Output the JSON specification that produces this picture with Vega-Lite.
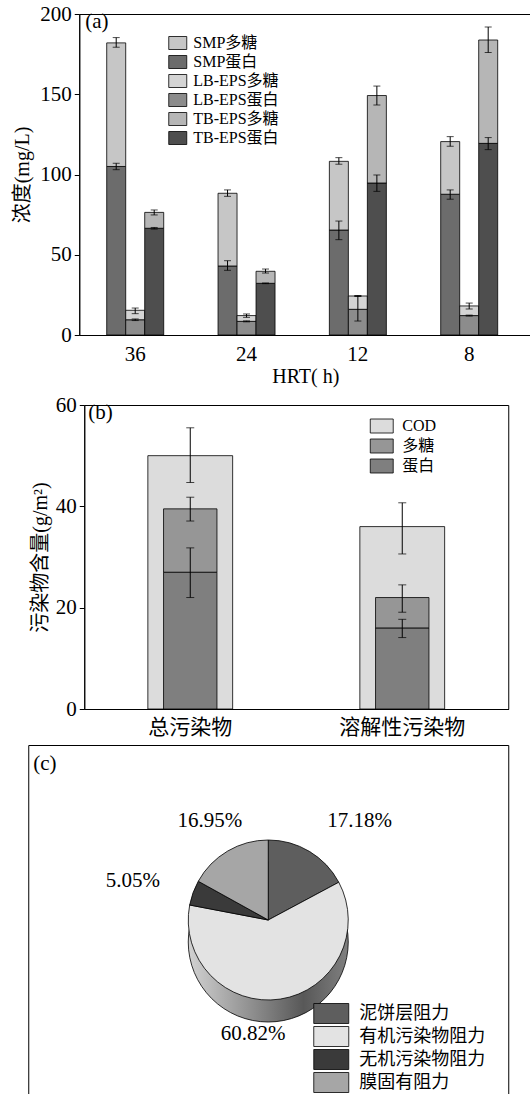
{
  "$schema": "https://vega.github.io/schema/vega-lite/v6.json",
  "padding": {"left": 12, "top": 2, "right": 0, "bottom": 0},
  "spacing": 6,
  "center": true,
  "resolve": {"scale": {"color": "independent"}, "legend": {"color": "independent"}},
  "config": {
    "font": "Liberation Serif, Noto Sans CJK SC",
    "view": {"stroke": "black", "strokeWidth": 1},
    "axis": {"grid": false, "domainColor": "black", "tickColor": "black", "labelColor": "black", "titleColor": "black", "labelFontSize": 21, "titleFontSize": 20, "titleFontWeight": "normal", "labelFont": "Liberation Serif, Noto Sans CJK SC", "titleFont": "Liberation Serif, Noto Sans CJK SC"},
    "legend": {"labelColor": "black", "labelFont": "Liberation Serif, Noto Sans CJK SC", "symbolStrokeColor": "black", "symbolStrokeWidth": 0.8, "symbolOpacity": 1},
    "title": {"fontWeight": "normal", "color": "black", "fontSize": 21, "anchor": "start", "frame": "group", "font": "Liberation Serif"}
  },
  "vconcat": [
    {
      "width": 452,
      "height": 321,
      "title": {"text": "(a)", "offset": -29, "dx": 6},
      "data": {"values": [
        {"hrt": "36", "type": "SMP", "series": "SMP蛋白", "y0": 0, "y1": 105, "lo": 103, "hi": 107},
        {"hrt": "36", "type": "SMP", "series": "SMP多糖", "y0": 105, "y1": 182, "lo": 179.3, "hi": 185.3},
        {"hrt": "36", "type": "LB-EPS", "series": "LB-EPS蛋白", "y0": 0, "y1": 9.5, "lo": 9, "hi": 10},
        {"hrt": "36", "type": "LB-EPS", "series": "LB-EPS多糖", "y0": 9.5, "y1": 15.4, "lo": 13.3, "hi": 16.8},
        {"hrt": "36", "type": "TB-EPS", "series": "TB-EPS蛋白", "y0": 0, "y1": 66.5, "lo": 66, "hi": 67},
        {"hrt": "36", "type": "TB-EPS", "series": "TB-EPS多糖", "y0": 66.5, "y1": 76.4, "lo": 74.8, "hi": 77.9},
        {"hrt": "24", "type": "SMP", "series": "SMP蛋白", "y0": 0, "y1": 43, "lo": 40.3, "hi": 46.3},
        {"hrt": "24", "type": "SMP", "series": "SMP多糖", "y0": 43, "y1": 88.3, "lo": 86.4, "hi": 90.4},
        {"hrt": "24", "type": "LB-EPS", "series": "LB-EPS蛋白", "y0": 0, "y1": 8.5, "lo": 8.2, "hi": 8.8},
        {"hrt": "24", "type": "LB-EPS", "series": "LB-EPS多糖", "y0": 8.5, "y1": 12.1, "lo": 11, "hi": 13.1},
        {"hrt": "24", "type": "TB-EPS", "series": "TB-EPS蛋白", "y0": 0, "y1": 32.2, "lo": 32, "hi": 32.4},
        {"hrt": "24", "type": "TB-EPS", "series": "TB-EPS多糖", "y0": 32.2, "y1": 39.7, "lo": 38.6, "hi": 41.1},
        {"hrt": "12", "type": "SMP", "series": "SMP蛋白", "y0": 0, "y1": 65.4, "lo": 59.4, "hi": 71},
        {"hrt": "12", "type": "SMP", "series": "SMP多糖", "y0": 65.4, "y1": 108.2, "lo": 106.4, "hi": 110.5},
        {"hrt": "12", "type": "LB-EPS", "series": "LB-EPS蛋白", "y0": 0, "y1": 16, "lo": 8.7, "hi": 24.3},
        {"hrt": "12", "type": "LB-EPS", "series": "LB-EPS多糖", "y0": 16, "y1": 24.3, "lo": 24, "hi": 24.6},
        {"hrt": "12", "type": "TB-EPS", "series": "TB-EPS蛋白", "y0": 0, "y1": 94.7, "lo": 89.5, "hi": 99.7},
        {"hrt": "12", "type": "TB-EPS", "series": "TB-EPS多糖", "y0": 94.7, "y1": 149.2, "lo": 143.3, "hi": 155.1},
        {"hrt": "8", "type": "SMP", "series": "SMP蛋白", "y0": 0, "y1": 87.7, "lo": 84.6, "hi": 90.4},
        {"hrt": "8", "type": "SMP", "series": "SMP多糖", "y0": 87.7, "y1": 120.5, "lo": 117.6, "hi": 123.6},
        {"hrt": "8", "type": "LB-EPS", "series": "LB-EPS蛋白", "y0": 0, "y1": 12.1, "lo": 11.8, "hi": 12.4},
        {"hrt": "8", "type": "LB-EPS", "series": "LB-EPS多糖", "y0": 12.1, "y1": 18.1, "lo": 16.2, "hi": 19.9},
        {"hrt": "8", "type": "TB-EPS", "series": "TB-EPS蛋白", "y0": 0, "y1": 119.4, "lo": 115.5, "hi": 123},
        {"hrt": "8", "type": "TB-EPS", "series": "TB-EPS多糖", "y0": 119.4, "y1": 183.8, "lo": 176, "hi": 191.9}
      ]},
      "encoding": {
        "x": {"field": "hrt", "type": "nominal", "sort": ["36", "24", "12", "8"], "scale": {"paddingInner": 0.488, "paddingOuter": 0.274, "align": 0.45},
              "axis": {"title": "HRT( h)", "labelAngle": 0, "ticks": false, "labelPadding": 8, "titlePadding": 2}},
        "xOffset": {"field": "type", "type": "nominal", "sort": ["SMP", "LB-EPS", "TB-EPS"], "scale": {"paddingInner": 0, "paddingOuter": 0}}
      },
      "layer": [
        {
          "mark": {"type": "bar", "stroke": "black", "strokeWidth": 0.8},
          "encoding": {
            "y": {"field": "y1", "type": "quantitative", "scale": {"domain": [0, 200]},
                  "axis": {"values": [0, 50, 100, 150, 200], "title": "浓度(mg/L)", "tickSize": 5, "labelPadding": 3, "titlePadding": 7}},
            "y2": {"field": "y0"},
            "color": {"field": "series", "type": "nominal",
                      "scale": {"domain": ["SMP多糖", "SMP蛋白", "LB-EPS多糖", "LB-EPS蛋白", "TB-EPS多糖", "TB-EPS蛋白"],
                                "range": ["#c6c6c6", "#6c6c6c", "#d4d4d4", "#8c8c8c", "#b6b6b6", "#4e4e4e"]},
                      "legend": {"title": null, "orient": "none", "legendX": 90.5, "legendY": 21, "symbolType": "M-1.385,-1H1.385V1H-1.385Z", "symbolSize": 169, "labelFontSize": 16, "labelOffset": 7.5, "rowPadding": 1}}
          }
        },
        {
          "mark": {"type": "rule", "color": "black", "strokeWidth": 1},
          "encoding": {"y": {"field": "lo", "type": "quantitative"}, "y2": {"field": "hi"}}
        },
        {
          "mark": {"type": "tick", "color": "black", "size": 7, "thickness": 1},
          "encoding": {"y": {"field": "lo", "type": "quantitative"}}
        },
        {
          "mark": {"type": "tick", "color": "black", "size": 7, "thickness": 1},
          "encoding": {"y": {"field": "hi", "type": "quantitative"}}
        }
      ]
    },
    {
      "width": 424,
      "height": 304,
      "title": {"text": "(b)", "offset": -29, "dx": 4},
      "data": {"values": [
        {"cat": "总污染物", "series": "COD", "y0": 0, "y1": 50, "lo": 44.7, "hi": 55.5},
        {"cat": "总污染物", "series": "蛋白", "y0": 0, "y1": 27, "lo": 22, "hi": 31.8},
        {"cat": "总污染物", "series": "多糖", "y0": 27, "y1": 39.5, "lo": 37.1, "hi": 41.8},
        {"cat": "溶解性污染物", "series": "COD", "y0": 0, "y1": 36, "lo": 30.6, "hi": 40.7},
        {"cat": "溶解性污染物", "series": "蛋白", "y0": 0, "y1": 16, "lo": 14.1, "hi": 17.7},
        {"cat": "溶解性污染物", "series": "多糖", "y0": 16, "y1": 22, "lo": 19.1, "hi": 24.5}
      ]},
      "resolve": {"axis": {"y": "independent"}},
      "layer": [
        {
          "encoding": {
            "x": {"field": "cat", "type": "nominal", "sort": ["总污染物", "溶解性污染物"], "scale": {"paddingInner": 0.6, "paddingOuter": 0.3},
                  "axis": {"title": null, "labelAngle": 0, "ticks": false, "labelPadding": 7}}
          },
          "layer": [
            {
              "transform": [{"filter": "datum.series === 'COD'"}],
              "mark": {"type": "bar", "stroke": "black", "strokeWidth": 0.8},
              "encoding": {
                "y": {"field": "y1", "type": "quantitative", "scale": {"domain": [0, 60]},
                      "axis": {"values": [0, 20, 40, 60], "title": "污染物含量(g/m²)", "tickSize": 5, "labelPadding": 3, "titlePadding": 5}},
                "y2": {"field": "y0"},
                "color": {"field": "series", "type": "nominal",
                          "scale": {"domain": ["COD", "多糖", "蛋白"], "range": ["#dcdcdc", "#969696", "#7f7f7f"]},
                          "legend": {"title": null, "orient": "none", "legendX": 289.5, "legendY": 13, "symbolType": "M-1.64,-1H1.64V1H-1.64Z", "symbolSize": 196, "labelFontSize": 16, "labelOffset": 12.5, "rowPadding": 2}}
              }
            },
            {
              "transform": [{"filter": "datum.series !== 'COD'"}],
              "mark": {"type": "bar", "stroke": "black", "strokeWidth": 0.8, "width": {"band": 0.63}},
              "encoding": {
                "y": {"field": "y1", "type": "quantitative"},
                "y2": {"field": "y0"},
                "color": {"field": "series", "type": "nominal"}
              }
            },
            {
              "mark": {"type": "rule", "color": "black", "strokeWidth": 1},
              "encoding": {"y": {"field": "lo", "type": "quantitative"}, "y2": {"field": "hi"}}
            },
            {
              "mark": {"type": "tick", "color": "black", "size": 8, "thickness": 1},
              "encoding": {"y": {"field": "lo", "type": "quantitative"}}
            },
            {
              "mark": {"type": "tick", "color": "black", "size": 8, "thickness": 1},
              "encoding": {"y": {"field": "hi", "type": "quantitative"}}
            }
          ]
        },
        {
          "mark": {"type": "rule", "opacity": 0},
          "encoding": {"y": {"field": "y1", "type": "quantitative", "axis": {"orient": "right", "labels": false, "ticks": false, "domain": false, "title": null, "minExtent": 18, "maxExtent": 18}}}
        }
      ]
    },
    {
      "width": 480,
      "height": 350,
      "title": {"text": "(c)", "offset": -29, "dx": 5},
      "data": {"values": [
        {"name": "泥饼层阻力", "pct": 17.18, "ord": 1, "label": "17.18%"},
        {"name": "有机污染物阻力", "pct": 60.82, "ord": 2, "label": "60.82%"},
        {"name": "无机污染物阻力", "pct": 5.05, "ord": 3, "label": "5.05%"},
        {"name": "膜固有阻力", "pct": 16.95, "ord": 4, "label": "16.95%"}
      ]},
      "layer": [
        {
          "mark": {"type": "rule", "opacity": 0},
          "encoding": {"y": {"datum": 0, "type": "quantitative", "axis": {"orient": "right", "domain": false, "ticks": false, "labels": false, "title": null, "minExtent": 74, "maxExtent": 74}}}
        },
        {
          "data": {"values": [{"pct": 100}]},
          "mark": {"type": "arc", "radius": 80, "yOffset": 22, "stroke": "black", "strokeWidth": 0.8,
                   "fill": {"gradient": "linear", "x1": 0, "x2": 1, "y1": 0, "y2": 0,
                            "stops": [{"offset": 0, "color": "#d2d2d2"}, {"offset": 0.72, "color": "#585858"}, {"offset": 1, "color": "#808080"}]}},
          "encoding": {"theta": {"field": "pct", "type": "quantitative"}}
        },
        {
          "mark": {"type": "arc", "radius": 80, "stroke": "black", "strokeWidth": 0.8},
          "encoding": {
            "theta": {"field": "pct", "type": "quantitative", "stack": true},
            "order": {"field": "ord", "type": "quantitative"},
            "color": {"field": "name", "type": "nominal",
                      "scale": {"domain": ["泥饼层阻力", "有机污染物阻力", "无机污染物阻力", "膜固有阻力"], "range": ["#5e5e5e", "#e3e3e3", "#3a3a3a", "#a6a6a6"]},
                      "legend": {"title": null, "orient": "none", "legendX": 292.5, "legendY": 258, "symbolType": "M-1.75,-1H1.75V1H-1.75Z", "symbolSize": 400, "labelFontSize": 18, "labelOffset": 17.5, "rowPadding": -8}}
          }
        },
        {
          "mark": {"type": "text", "radius": 115, "fontSize": 21, "color": "black", "font": "Liberation Serif",
                   "align": {"expr": "datum.ord == 1 ? 'left' : (datum.ord == 4 ? 'center' : 'right')"}},
          "encoding": {
            "theta": {"field": "pct", "type": "quantitative", "stack": true},
            "order": {"field": "ord", "type": "quantitative"},
            "text": {"field": "label", "type": "nominal"}
          }
        }
      ]
    }
  ]
}
